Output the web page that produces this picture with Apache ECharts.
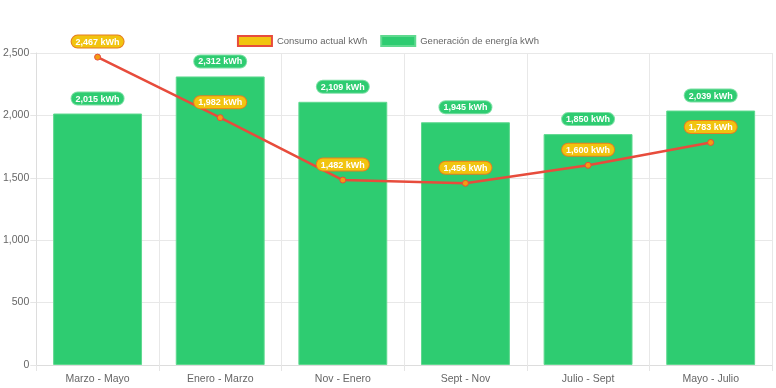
<!DOCTYPE html>
<html><head><meta charset="utf-8">
<script src="https://cdn.jsdelivr.net/npm/echarts@6/dist/echarts.min.js"></script>
<style>html,body{margin:0;padding:0;background:#fff}#c{width:776px;height:388px}</style>
</head><body><div id="c"></div>
<script>
const categories = ['Marzo - Mayo','Enero - Marzo','Nov - Enero','Sept - Nov','Julio - Sept','Mayo - Julio'];
const consumo = [2467, 1982, 1482, 1456, 1600, 1783];
const generacion = [2015, 2312, 2109, 1945, 1850, 2039];
const yTicks = [0, 500, 1000, 1500, 2000, 2500];
const fmt = v => v.toLocaleString('en-US') + ' kWh';
const chart = echarts.init(document.getElementById('c'));
chart.setOption({
  animation: false,
  textStyle: { fontFamily: 'Liberation Sans, Arial, sans-serif' },
  legend: {
    top: 30, left: 'center', itemWidth: 34, itemHeight: 10, itemGap: 13,
    textStyle: { fontSize: 9.5, color: '#666' },
    data: [
      { name: 'Consumo actual kWh', icon: 'rect', itemStyle: { color: '#f1c40f', borderColor: '#e74c3c', borderWidth: 2 } },
      { name: 'Generación de energía kWh', icon: 'rect', itemStyle: { color: '#2ecc71' } }
    ]
  },
  grid: { left: 36, right: 4, top: 53, bottom: 23 },
  xAxis: {
    type: 'category', data: categories, boundaryGap: true,
    axisLine: { lineStyle: { color: '#ddd' } },
    axisTick: { show: true, length: 6, lineStyle: { color: '#e5e5e5' } },
    axisLabel: { color: '#666', fontSize: 10.5, margin: 9 },
    splitLine: { show: true, lineStyle: { color: '#e8e8e8' } }
  },
  yAxis: {
    type: 'value', min: yTicks[0], max: yTicks[yTicks.length - 1], interval: 500,
    axisLine: { show: true, lineStyle: { color: '#ddd' } },
    axisTick: { show: true, length: 6, lineStyle: { color: '#e5e5e5' } },
    axisLabel: { color: '#666', fontSize: 10.5, margin: 7, formatter: v => v.toLocaleString('en-US') },
    splitLine: { lineStyle: { color: '#e8e8e8' } }
  },
  series: [
    {
      name: 'Generación de energía kWh', type: 'bar', data: generacion,
      barCategoryGap: '27.5%',
      itemStyle: { color: '#2ecc71', borderColor: '#5fd98f', borderWidth: 1 },
      label: {
        show: true, position: 'top', distance: 9, formatter: p => fmt(p.value),
        color: '#fff', fontWeight: 'bold', fontSize: 9,
        backgroundColor: '#2ecc71', borderColor: '#7fe0a6', borderWidth: 1, borderRadius: 6,
        padding: [2, 4, 1, 4]
      },
      z: 2
    },
    {
      name: 'Consumo actual kWh', type: 'line', data: consumo,
      lineStyle: { color: '#e74c3c', width: 2.5 },
      symbol: 'circle', symbolSize: 6,
      itemStyle: { color: '#f39c12', borderColor: '#e74c3c', borderWidth: 1 },
      label: {
        show: true, position: 'top', distance: 6, formatter: p => fmt(p.value),
        color: '#fff', fontWeight: 'bold', fontSize: 9,
        backgroundColor: '#f1c40f', borderColor: '#e67e22', borderWidth: 1, borderRadius: 6,
        padding: [2, 4, 1, 4]
      },
      z: 5
    }
  ]
});
</script></body></html>
